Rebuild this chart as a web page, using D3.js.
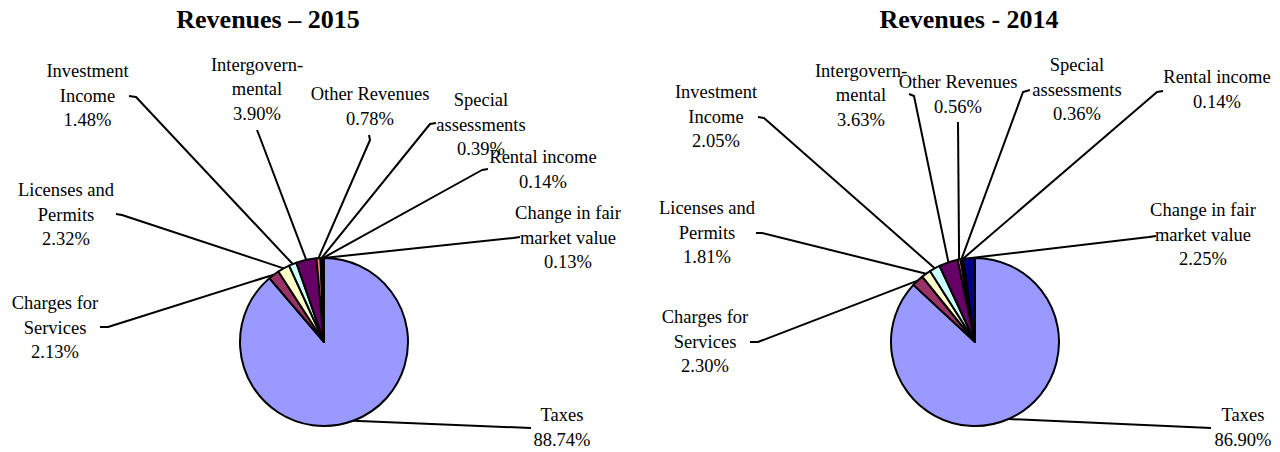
<!DOCTYPE html>
<html>
<head>
<meta charset="utf-8">
<script src="https://cdn.jsdelivr.net/npm/d3@7"></script>
<style>
  html, body { margin: 0; padding: 0; background: #fff; }
  svg { display: block; }
</style>
</head>
<body>
<svg id="chart" width="1280" height="452"></svg>
<script>
// ---- data ----
const categories = ["Taxes", "Charges for Services", "Licenses and Permits", "Investment Income",
  "Intergovernmental", "Other Revenues", "Special assessments", "Rental income", "Change in fair market value"];
const labelLines = [["Taxes"], ["Charges for", "Services"], ["Licenses and", "Permits"], ["Investment", "Income"],
  ["Intergovern-", "mental"], ["Other Revenues"], ["Special", "assessments"], ["Rental income"], ["Change in fair", "market value"]];
const values2015 = [88.74, 2.13, 2.32, 1.48, 3.90, 0.78, 0.39, 0.14, 0.13];
const values2014 = [86.90, 2.30, 1.81, 2.05, 3.63, 0.56, 0.36, 0.14, 2.25];
const chartTitles = ["Revenues \u2013 2015", "Revenues - 2014"];

// ---- styles ----
const sliceColors = ["#9999FF", "#993366", "#FFFFCC", "#CCFFFF", "#660066", "#FF8080", "#0066CC", "#CCCCFF", "#000080"];
const serif = "'Liberation Serif', 'Times New Roman', Times, 'DejaVu Serif', serif";

// ---- layout (label placement: text centre x, first baseline, leader end, tick end) ----
const layout2015 = {
  center: [324, 342], titleX: 268,
  labels: [
    [562, 421, [531, 428], null],
    [55, 309, [108, 327], [100, 327]],
    [66, 196, [122, 215], [116, 214]],
    [87.5, 77, [136, 97], [129, 96]],
    [257, 70.5, [259, 135], [257, 130]],
    [370, 100, [370, 140], [369, 135]],
    [481, 106, [430, 124], [436, 123]],
    [543, 163, [482, 170], [488, 169]],
    [568, 219, [513, 238], [520, 237]]
  ]
};
const layout2014 = {
  center: [975, 342], titleX: 969,
  labels: [
    [1243, 421, [1211, 428], null],
    [705, 323, [758, 342], [750, 342]],
    [707, 214, [762, 233], [756, 233]],
    [716, 98, [764, 118], [758, 117]],
    [861, 76.5, [914, 96], [909, 94]],
    [958, 88, [958, 122], null],
    [1077, 71, [1023, 92], [1030, 90]],
    [1217, 83, [1157, 92], [1163, 91]],
    [1203, 216, [1149, 237], [1156, 236]]
  ]
};

const radius = 84;
const fontSize = 18.5;
const lineH = 24.5;

const svg = d3.select("#chart");
const fmt = v => d3.format(".2f")(v) + "%";

function drawPie(values, title, lay) {
  const g = svg.append("g");
  const [cx, cy] = lay.center;

  g.append("text")
    .attr("x", lay.titleX).attr("y", 28)
    .attr("text-anchor", "middle")
    .attr("font-family", serif)
    .attr("font-size", 26).attr("font-weight", "bold")
    .attr("fill", "#000")
    .text(title);

  const pie = d3.pie().sort(null).value(d => d).startAngle(0).endAngle(2 * Math.PI);
  const arcs = pie(values);
  const arc = d3.arc().innerRadius(0).outerRadius(radius);
  const edge = d3.arc().innerRadius(radius).outerRadius(radius);

  // leader lines
  const line = d3.line();
  g.append("g").selectAll("path")
    .data(arcs)
    .join("path")
    .attr("d", (d, i) => {
      const c = edge.centroid(d);
      const L = lay.labels[i];
      const pts = [[cx + c[0], cy + c[1]], L[2]];
      if (L[3]) pts.push(L[3]);
      return line(pts);
    })
    .attr("fill", "none").attr("stroke", "#000").attr("stroke-width", 2)
    .attr("stroke-linejoin", "round");

  // slices
  g.append("g").attr("transform", `translate(${cx},${cy})`)
    .selectAll("path")
    .data(arcs)
    .join("path")
    .attr("d", arc)
    .attr("fill", (d, i) => sliceColors[i])
    .attr("stroke", "#000").attr("stroke-width", 2)
    .attr("stroke-linejoin", "round");

  // labels
  const lg = g.append("g");
  arcs.forEach((d, i) => {
    const L = lay.labels[i];
    const lines = labelLines[i].concat([fmt(values[i])]);
    const t = lg.append("text")
      .attr("text-anchor", "middle")
      .attr("font-family", serif)
      .attr("font-size", fontSize)
      .attr("fill", "#000");
    lines.forEach((s, k) => {
      t.append("tspan").attr("x", L[0]).attr("y", L[1] + k * lineH).text(s);
    });
  });
}

drawPie(values2015, chartTitles[0], layout2015);
drawPie(values2014, chartTitles[1], layout2014);
</script>
</body>
</html>
